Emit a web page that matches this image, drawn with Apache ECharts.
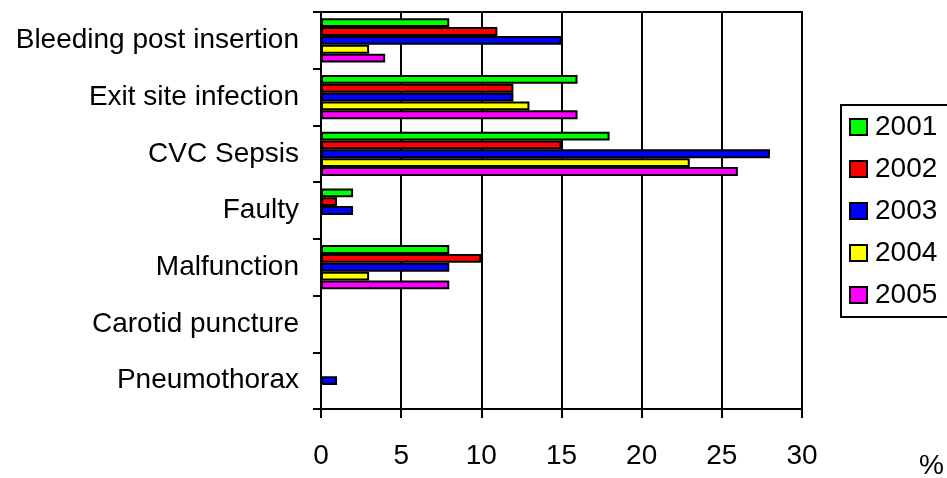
<!DOCTYPE html>
<html>
<head>
<meta charset="utf-8">
<script src="https://cdn.jsdelivr.net/npm/echarts@6/dist/echarts.min.js"></script>
<style>
html,body{margin:0;padding:0;background:#fff;}
#chart{width:947px;height:478px;}
</style>
</head>
<body>
<div id="chart"></div>
<script>
const categories = ["Bleeding post insertion","Exit site infection","CVC Sepsis","Faulty","Malfunction","Carotid puncture","Pneumothorax"];
const years = ["2001","2002","2003","2004","2005"];
const v2001 = [8, 16, 18, 2, 8, 0, 0];
const v2002 = [11, 12, 15, 1, 10, 0, 0];
const v2003 = [15, 12, 28, 2, 8, 0, 1];
const v2004 = [3, 13, 23, 0, 3, 0, 0];
const v2005 = [4, 16, 26, 0, 8, 0, 0];
const xTicks = [0, 5, 10, 15, 20, 25, 30];
const colors = ["#00ff00","#ff0000","#0000ff","#ffff00","#ff00ff"];
const seriesValues = [v2001, v2002, v2003, v2004, v2005];

const FONT = "Liberation Sans, Arial, sans-serif";
const chart = echarts.init(document.getElementById('chart'), null, {renderer:'canvas'});
const option = {
  animation: false,
  backgroundColor: '#ffffff',
  textStyle: {fontFamily: FONT, color: '#000'},
  grid: {left: 321, right: 145, top: 12, bottom: 69, show: true, borderColor: '#000', borderWidth: 2, backgroundColor: 'transparent'},
  xAxis: {
    type: 'value', min: xTicks[0], max: xTicks[xTicks.length-1], interval: 5,
    axisLine: {show: true, lineStyle: {color: '#000', width: 2}},
    axisTick: {show: true, length: 9, lineStyle: {color: '#000', width: 2}},
    splitLine: {show: true, lineStyle: {color: '#000', width: 2}},
    axisLabel: {fontSize: 28, color: '#000', fontFamily: FONT, margin: 33}
  },
  yAxis: {
    type: 'category', data: categories, inverse: true,
    axisLine: {show: true, lineStyle: {color: '#000', width: 2}},
    axisTick: {show: true, length: 8, lineStyle: {color: '#000', width: 2}},
    axisLabel: {fontSize: 28, color: '#000', fontFamily: FONT, margin: 22}
  },
  legend: {
    orient: 'vertical', left: 841, top: 105,
    data: years,
    icon: 'rect', itemWidth: 17, itemHeight: 16, itemGap: 14,
    padding: [8, 11, 8, 8],
    borderColor: '#000', borderWidth: 2,
    textStyle: {fontSize: 28, lineHeight: 28, color: '#000', fontFamily: FONT, padding: [0,0,0,3]}
  },
  graphic: [{type: 'text', left: 919, top: 452, style: {text: '%', fontSize: 28, fill: '#000', fontFamily: FONT}}],
  series: years.map((y, i) => ({
    name: y, type: 'bar',
    data: seriesValues[i].map(v => v === 0 ? null : v),
    barGap: '0%', barCategoryGap: '22%',
    itemStyle: {color: colors[i], borderColor: '#000', borderWidth: 2}
  }))
};
chart.setOption(option);
</script>
</body>
</html>
